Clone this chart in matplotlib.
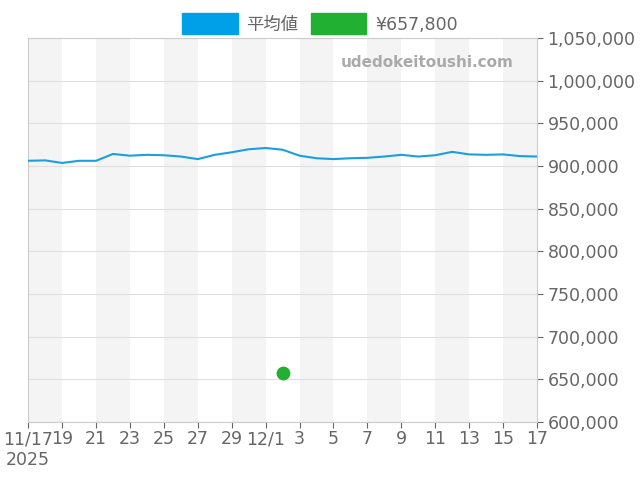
import matplotlib
matplotlib.use("Agg")
import matplotlib.pyplot as plt
import numpy as np

plt.rcParams['font.family'] = ['DejaVu Sans', 'Noto Sans CJK JP']

days = list(range(31))  # 11/17 .. 12/17
avg = [906, 906.5, 903.5, 906, 906, 914, 912, 913, 912.5, 911, 908, 913, 916, 919.5,
       921, 919, 912, 909, 908, 909, 909.5, 911, 913, 911, 912.5, 916.5, 913.5, 913,
       913.5, 911.5, 911]
avg = [v * 1000 for v in avg]
point_day = 15
point_val = 657800
tick_labels = ["11/17\n2025", "19", "21", "23", "25", "27", "29", "12/1", "3", "5",
               "7", "9", "11", "13", "15", "17"]

fig = plt.figure(figsize=(6.4, 4.8), dpi=100)
ax = fig.add_axes([0.044, 0.121, 0.795, 0.8])
for s in range(0, 30, 4):
    ax.axvspan(s, s + 2, color='#f4f4f4', zorder=0, lw=0)
ax.plot(days, avg, color='#1a9fe0', lw=1.5, zorder=3, label='平均値')
ax.scatter([point_day], [point_val], color='#22b033', s=80, zorder=4, label='¥657,800')
ax.set_xlim(0, 30)
ax.set_ylim(600000, 1050000)
ax.set_xticks(range(0, 31, 2))
ax.set_xticklabels(tick_labels)
ax.set_yticks(range(600000, 1050001, 50000))
ax.set_yticklabels([f"{v:,}" for v in range(600000, 1050001, 50000)])
ax.yaxis.tick_right()
ax.grid(axis='y', color='#e0e0e0', lw=0.8)
ax.tick_params(colors='#666666', labelsize=12.5, length=4)
ax.tick_params(axis='x', pad=2)
for sp in ax.spines.values():
    sp.set_color('#cccccc')
ax.text(0.955, 0.935, 'udedokeitoushi.com', transform=ax.transAxes, ha='right', va='center',
        color='#aaaaaa', fontsize=11, fontweight='bold')
h1 = plt.Rectangle((0, 0), 1, 1, color='#00a0e9')
h2 = plt.Rectangle((0, 0), 1, 1, color='#22b033')
fig.legend([h1, h2], ['平均値', '¥657,800'], loc='upper center', bbox_to_anchor=(0.5, 1.005),
           ncol=2, frameon=False, fontsize=12.5, handlelength=3.2, handleheight=1.5,
           handletextpad=0.5, labelcolor='#666666', columnspacing=0.7)
fig.savefig('out.png')
